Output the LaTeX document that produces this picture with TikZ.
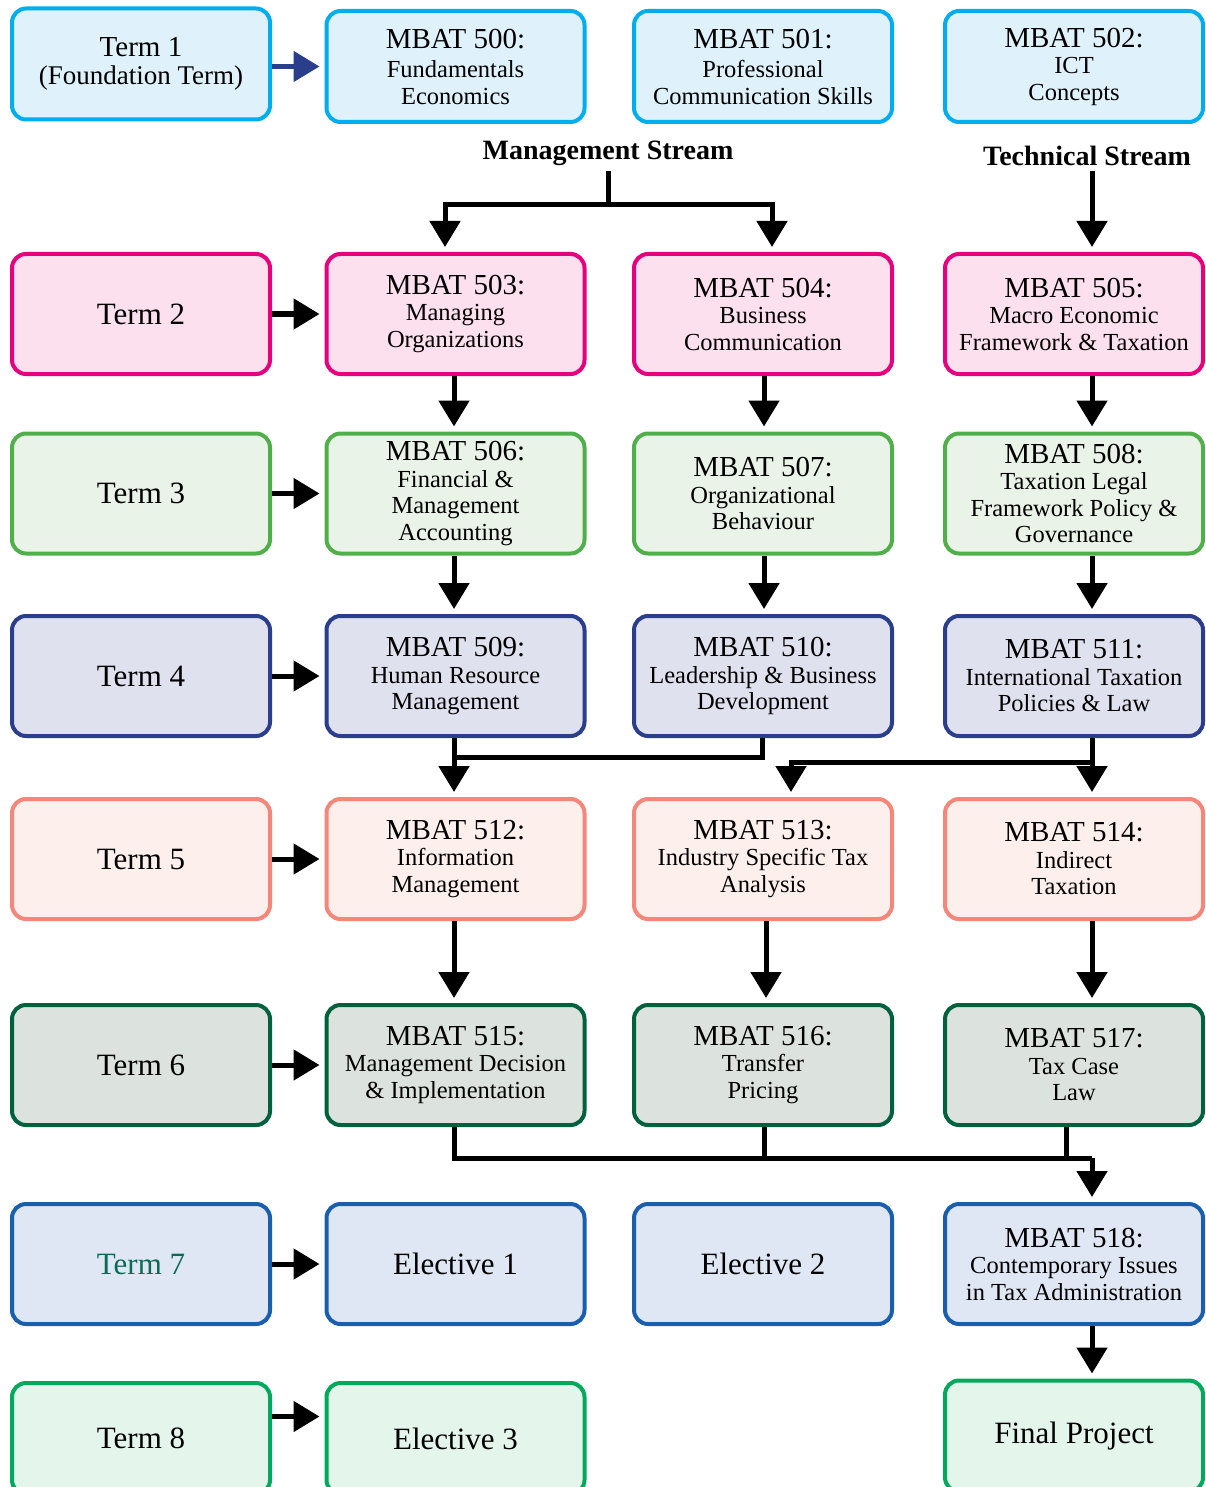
\documentclass[tikz,border=0pt]{standalone}
\usepackage{fontspec}
\setmainfont{Liberation Serif}
\usetikzlibrary{arrows.meta,calc}
\newcommand\tfont{\fontsize{29}{31}\selectfont}
\newcommand\trmfont{\fontsize{31}{33}\selectfont}
\newcommand\sfont{\fontsize{24.5}{26.5}\selectfont}
\newcommand\stfont{\fontsize{28}{30}\selectfont\bfseries}
\definecolor{cAd}{HTML}{00AEEF}\definecolor{cAl}{HTML}{DFF1FB}
\definecolor{cBd}{HTML}{E6007E}\definecolor{cBl}{HTML}{FCE0EE}
\definecolor{cCd}{HTML}{50AF4B}\definecolor{cCl}{HTML}{EAF3E7}
\definecolor{cDd}{HTML}{2A3E8C}\definecolor{cDl}{HTML}{E0E1EF}
\definecolor{cEd}{HTML}{F4877A}\definecolor{cEl}{HTML}{FDF0EC}
\definecolor{cFd}{HTML}{00613F}\definecolor{cFl}{HTML}{DCE3DE}
\definecolor{cGd}{HTML}{1A5FAD}\definecolor{cGl}{HTML}{E0E7F4}
\definecolor{cHd}{HTML}{00A95C}\definecolor{cHl}{HTML}{E4F5EC}
\definecolor{termseven}{HTML}{0B6B55}
\begin{document}
\begin{tikzpicture}[x=1pt,y=-1pt,
 box/.style={draw, rounded corners=14pt, line width=4pt, minimum width=258pt,
   minimum height=120pt, align=center, inner sep=0pt, font=\sfont},
 rA/.style={box, draw=cAd, fill=cAl, minimum height=111pt},
 rB/.style={box, draw=cBd, fill=cBl},
 rC/.style={box, draw=cCd, fill=cCl},
 rD/.style={box, draw=cDd, fill=cDl},
 rE/.style={box, draw=cEd, fill=cEl},
 rF/.style={box, draw=cFd, fill=cFl},
 rG/.style={box, draw=cGd, fill=cGl},
 rH/.style={box, draw=cHd, fill=cHl, minimum height=111pt},
 termtxt/.style={font=\trmfont},
 link/.style={line width=5pt},
 arr/.style={line width=5pt, -{Triangle[length=26pt,width=30pt]}, shorten >=5pt},
 streamlbl/.style={font=\stfont, inner sep=2pt}
]
\useasboundingbox (0,0) rectangle (1206,1487);

% Row 1
\node[rA] (t1) at (141,64) {{\fontsize{29}{31}\selectfont Term 1}\\[1pt]{\fontsize{27}{29}\selectfont (Foundation Term)}};
\node[rA] (c2r1) at (455.5,66.5) {{\tfont MBAT 500:}\\[3pt]Fundamentals\\Economics};
\node[rA] (c3r1) at (763,66.5) {{\tfont MBAT 501:}\\[3pt]Professional\\Communication Skills};
\node[rA] (c4r1) at (1074,66.5) {{\tfont MBAT 502:}\\ICT\\Concepts};

% Row 2
\node[rB, termtxt] (t2) at (141,314) {Term 2};
\node[rB] (c2r2) at (455.5,314) {{\tfont MBAT 503:}\\Managing\\Organizations};
\node[rB] (c3r2) at (763,314) {{\tfont MBAT 504:}\\Business\\Communication};
\node[rB] (c4r2) at (1074,314) {{\tfont MBAT 505:}\\Macro Economic\\Framework \& Taxation};

% Row 3
\node[rC, termtxt] (t3) at (141,493.5) {Term 3};
\node[rC] (c2r3) at (455.5,493.5) {{\tfont MBAT 506:}\\Financial \&\\Management\\Accounting};
\node[rC] (c3r3) at (763,493.5) {{\tfont MBAT 507:}\\Organizational\\Behaviour};
\node[rC] (c4r3) at (1074,493.5) {{\tfont MBAT 508:}\\Taxation Legal\\Framework Policy \&\\Governance};

% Row 4
\node[rD, termtxt] (t4) at (141,676) {Term 4};
\node[rD] (c2r4) at (455.5,676) {{\tfont MBAT 509:}\\Human Resource\\Management};
\node[rD] (c3r4) at (763,676) {{\tfont MBAT 510:}\\Leadership \& Business\\Development};
\node[rD] (c4r4) at (1074,676) {{\tfont MBAT 511:}\\International Taxation\\Policies \& Law};

% Row 5
\node[rE, termtxt] (t5) at (141,859) {Term 5};
\node[rE] (c2r5) at (455.5,859) {{\tfont MBAT 512:}\\Information\\Management};
\node[rE] (c3r5) at (763,859) {{\tfont MBAT 513:}\\Industry Specific Tax\\Analysis};
\node[rE] (c4r5) at (1074,859) {{\tfont MBAT 514:}\\Indirect\\Taxation};

% Row 6
\node[rF, termtxt] (t6) at (141,1065) {Term 6};
\node[rF] (c2r6) at (455.5,1065) {{\tfont MBAT 515:}\\Management Decision\\\& Implementation};
\node[rF] (c3r6) at (763,1065) {{\tfont MBAT 516:}\\Transfer\\Pricing};
\node[rF] (c4r6) at (1074,1065) {{\tfont MBAT 517:}\\Tax Case\\Law};

% Row 7
\node[rG, termtxt, text=termseven] (t7) at (141,1264) {Term 7};
\node[rG, termtxt] (c2r7) at (455.5,1264) {Elective 1};
\node[rG, termtxt] (c3r7) at (763,1264) {Elective 2};
\node[rG] (c4r7) at (1074,1264) {{\tfont MBAT 518:}\\Contemporary Issues\\in Tax Administration};

% Row 8
\node[rH, termtxt] (t8) at (141,1438.5) {Term 8};
\node[rH, termtxt] (c2r8) at (455.5,1438.5) {Elective 3};
\node[rH, termtxt] (c4r8) at (1074,1436) {Final Project};

% Stream labels
\node[streamlbl] (ms) at (608,153) {Management Stream};
\node[streamlbl] (ts) at (1087,156) {Technical Stream};

% Term arrows
\draw[arr, draw=cDd] ([yshift=-2.5pt]t1.east) -- ([yshift=-2.5pt]t1.east -| c2r1.west);
\foreach \r in {2,...,7}{\draw[arr] (t\r.east) -- (t\r.east -| c2r\r.west);}
\draw[arr] ([yshift=22pt]t8.east) -- ([yshift=22pt]t8.east -| c2r8.west);

% Management stream
\coordinate (jm) at (608,205);
\draw[link, shorten <=3pt] (ms.south) -- (jm);
\draw[arr] (jm) -| ([xshift=-10.5pt]c2r2.north);
\draw[arr] (jm) -| ([xshift=9pt]c3r2.north);
% Technical stream
\draw[arr, shorten <=3pt] ([xshift=5pt]ts.south) -- ([xshift=18pt]c4r2.north);

% Row 2 -> 3 and 3 -> 4
\foreach \a/\b in {2/3,3/4}{
  \draw[arr] ([xshift=-1.5pt]c2r\a.south) -- ([xshift=-1.5pt]c2r\b.north);
  \draw[arr] ([xshift=1pt]c3r\a.south) -- ([xshift=1pt]c3r\b.north);
  \draw[arr] ([xshift=18pt]c4r\a.south) -- ([xshift=18pt]c4r\b.north);
}

% Row 4 -> 5
\coordinate (j4a) at (454,757);
\coordinate (j4b) at (1092,762);
\draw[arr] ([xshift=-1.5pt]c2r4.south) -- ([xshift=-1.5pt]c2r5.north);
\draw[link] ([xshift=-1pt]c3r4.south) |- (j4a);
\draw[arr] ([xshift=18pt]c4r4.south) -- ([xshift=18pt]c4r5.north);
\draw[arr] (j4b) -| ([xshift=28pt]c3r5.north);

% Row 5 -> 6
\draw[arr] ([xshift=-1.5pt]c2r5.south) -- ([xshift=-1.5pt]c2r6.north);
\draw[arr] ([xshift=3pt]c3r5.south) -- ([xshift=3pt]c3r6.north);
\draw[arr] ([xshift=18pt]c4r5.south) -- ([xshift=18pt]c4r6.north);

% Row 6 -> 7
\coordinate (j6) at (1092,1158);
\draw[link] ([xshift=-1.5pt]c2r6.south) |- (j6);
\draw[link] ([xshift=1pt]c3r6.south) -- ++(0,31);
\draw[link] ([xshift=-8pt]c4r6.south) -- ++(0,31);
\draw[arr] (j6) -- ([xshift=18pt]c4r7.north);

% Row 7 -> 8
\draw[arr] ([xshift=18pt]c4r7.south) -- ([xshift=18pt]c4r8.north);
\end{tikzpicture}
\end{document}
